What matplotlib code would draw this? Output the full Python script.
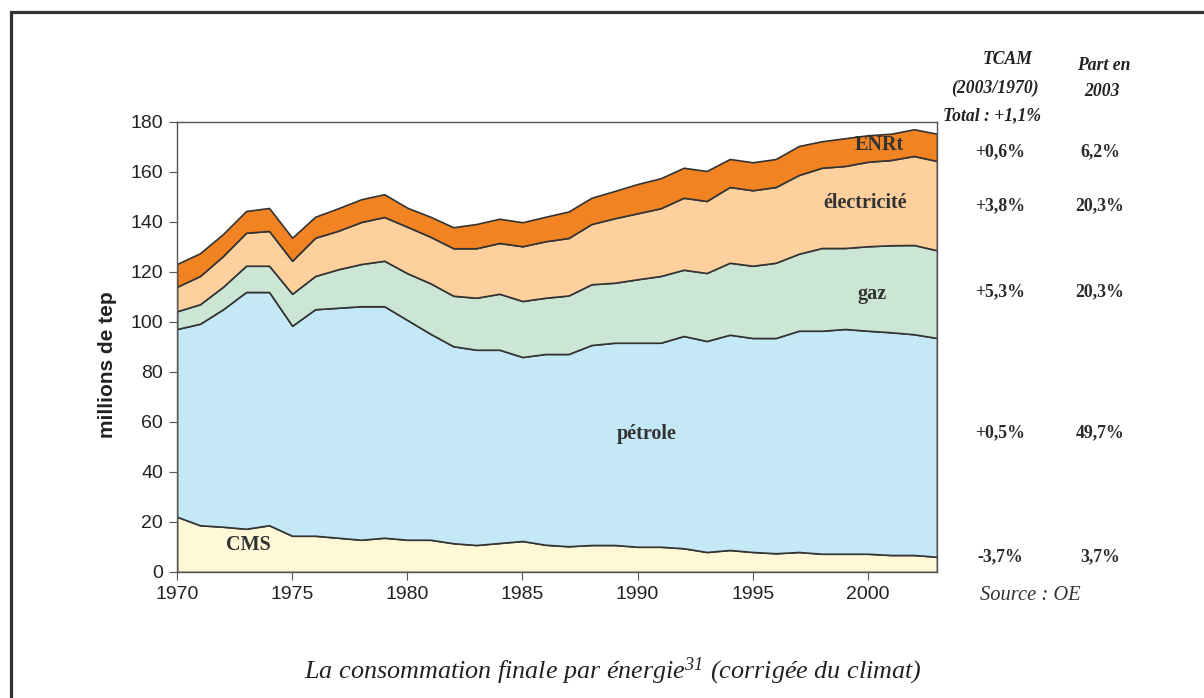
"""
Consommation finale par énergie (corrigée du climat), 1970-2003
"""

import matplotlib
matplotlib.use('Agg')
import matplotlib.pyplot as plt
from matplotlib.patches import Rectangle

matplotlib.rcParams['font.family'] = ['Liberation Sans', 'DejaVu Sans']
matplotlib.rcParams['mathtext.fontset'] = 'custom'
matplotlib.rcParams['mathtext.rm'] = 'Liberation Serif:italic'
matplotlib.rcParams['mathtext.it'] = 'Liberation Serif:italic'

# données (millions de tep)
annees = list(range(1970, 2004))
cms = [22.1, 18.7, 18.1, 17.3, 18.7, 14.5, 14.5, 13.7, 12.9, 13.7,
       12.9, 12.9, 11.5, 10.8, 11.6, 12.4, 10.9, 10.3, 10.8, 10.8,
       10.1, 10.1, 9.5, 8.0, 8.8, 8.0, 7.5, 8.0, 7.3, 7.3,
       7.3, 6.8, 6.8, 6.1]
petrole = [75.1, 80.6, 87.0, 94.7, 93.3, 84.0, 90.6, 92.0, 93.4, 92.6,
           87.9, 82.4, 78.8, 78.1, 77.3, 73.6, 76.3, 76.9, 80.0, 80.9,
           81.6, 81.6, 84.9, 84.4, 86.1, 85.6, 86.1, 88.5, 89.2, 89.9,
           89.2, 89.1, 88.3, 87.5]
gaz = [7.1, 7.8, 9.0, 10.5, 10.5, 12.8, 13.3, 15.4, 16.9, 18.2,
       18.7, 20.2, 20.2, 20.8, 22.4, 22.4, 22.5, 23.4, 24.3, 24.0,
       25.4, 26.7, 26.5, 27.2, 28.8, 28.9, 30.1, 30.8, 33.1, 32.4,
       33.8, 34.8, 35.7, 35.1]
electricite = [9.8, 11.3, 12.3, 13.2, 13.9, 13.2, 15.3, 15.4, 16.8, 17.5,
               18.6, 18.6, 19.0, 19.8, 20.3, 21.9, 22.6, 23.0, 24.1, 25.8,
               26.4, 27.1, 28.8, 28.8, 30.3, 30.2, 30.3, 31.5, 32.1, 32.8,
               33.8, 34.1, 35.6, 35.7]
enrt = [9.1, 9.1, 8.8, 8.7, 9.2, 9.2, 8.4, 9.0, 9.1, 9.1,
        7.6, 8.0, 8.4, 9.7, 9.7, 9.6, 9.8, 10.6, 10.5, 10.9,
        11.7, 12.0, 12.0, 12.0, 11.2, 11.2, 11.2, 11.6, 10.6, 11.1,
        10.6, 10.5, 10.7, 10.9]

couleurs = ['#FEF8D6', '#C5E8F7', '#CBE6D5', '#FDD09E', '#F28322']

# tableau de droite
tcam = ['+0,6%', '+3,8%', '+5,3%', '+0,5%', '-3,7%']
parts = ['6,2%', '20,3%', '20,3%', '49,7%', '3,7%']
lignes_y = [152, 206, 292, 433, 557]   # positions en pixels

W, H = 1204, 698
SERIF = ['Liberation Serif', 'DejaVu Serif']


def px(x, y):
    """pixels -> coordonnées figure"""
    return x / W, 1 - y / H


fig = plt.figure(figsize=(W / 100, H / 100), dpi=100)
ax = fig.add_axes([177 / W, 1 - 572 / H, (937 - 177) / W, (572 - 122) / H])

ax.stackplot(annees, cms, petrole, gaz, electricite, enrt,
             colors=couleurs, edgecolor='#333333', linewidth=1.2)

ax.set_xlim(1970, 2003)
ax.set_ylim(0, 180)
ax.set_xticks(range(1970, 2001, 5))
ax.set_yticks(range(0, 181, 20))
ax.tick_params(direction='out', length=6, color='#555555', labelsize=14,
               labelcolor='#222222', pad=4)
for s in ax.spines.values():
    s.set_color('#555555')
    s.set_linewidth(1.0)
ax.set_ylabel('millions de tep', fontsize=15, fontweight='bold',
              color='#222222')
ax.yaxis.set_label_coords((117 - 177) / (937 - 177), 1 - (364.5 - 122) / 450)

# étiquettes dans le graphique
lab = dict(family=SERIF, fontweight='bold', fontsize=14.5, color='#333333',
           ha='center', va='center')
ax.text(1973.1, 10.8, 'CMS', **lab)
ax.text(1990.4, 55, 'pétrole', **lab)
ax.text(2000.2, 111, 'gaz', **lab)
ax.text(1999.9, 147.5, 'électricité', **lab)
ax.text(2000.5, 171, 'ENRt', **lab)

# tableau TCAM / part
ent = dict(family=SERIF, fontweight='bold', style='italic', fontsize=12.7,
           color='#222222', ha='center', va='center')
fig.text(*px(1008, 60), 'TCAM', **ent)
fig.text(*px(995, 88), '(2003/1970)', **ent)
fig.text(*px(992, 116), 'Total : +1,1%', **ent)
fig.text(*px(1104, 66), 'Part en', **ent)
fig.text(*px(1102, 92), '2003', **ent)

val = dict(family=SERIF, fontweight='bold', fontsize=12.8, color='#2a2a2a',
           ha='center', va='center')
for t, p, y in zip(tcam, parts, lignes_y):
    fig.text(*px(1000, y), t, **val)
    fig.text(*px(1100, y), p, **val)

fig.text(*px(1030, 596), 'Source : OE', family=SERIF, style='italic',
         fontsize=14.8, color='#333333', ha='center', va='center')

fig.text(*px(613, 671), 'La consommation finale par énergie$^{31}$ (corrigée du climat)',
         family=SERIF, style='italic', fontsize=18.8, color='#222222',
         ha='center', va='center')

# cadre
fig.patches.append(Rectangle((10.5 / W, -0.2), 1.5, 1.2 - 11.5 / H,
                             transform=fig.transFigure, fill=False,
                             edgecolor='#333333', linewidth=2.3))

fig.savefig('out.png', dpi=100)
